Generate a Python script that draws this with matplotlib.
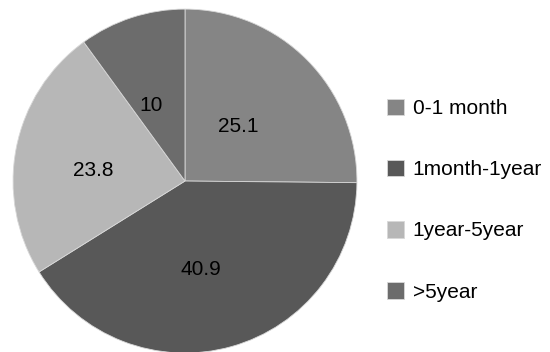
import matplotlib.pyplot as plt
import numpy as np

plt.rcParams['font.family'] = ['Liberation Sans', 'DejaVu Sans']

labels = ['0-1 month', '1month-1year', '1year-5year', '>5year']
values = [25.1, 40.9, 23.8, 10]
colors = ['#858585', '#585858', '#b7b7b7', '#6c6c6c']

fig = plt.figure(figsize=(5.5, 3.52), dpi=100)
ax = fig.add_axes([0.0236, -0.0028, 0.6255, 0.977])

wedges, texts = ax.pie(values, colors=colors, startangle=90, counterclock=False,
                       labels=[str(v) for v in values], labeldistance=0.5,
                       wedgeprops=dict(edgecolor='#d8d8d8', linewidth=0.6),
                       textprops=dict(fontsize=15, color='black'))
# nudge the value labels a little left and down
for t in texts:
    x, y = t.get_position()
    t.set_position((x - 0.045, y - 0.035))
    t.set_horizontalalignment('center')
    t.set_verticalalignment('center')
ax.set_xlim(-1, 1)
ax.set_ylim(-1, 1)
ax.set_aspect('equal')
ax.axis('off')

fig.legend(wedges, labels, loc='upper left', bbox_to_anchor=(0.703, 0.72),
           frameon=False, fontsize=15, labelspacing=2.0,
           handlelength=0.85, handleheight=0.85, handletextpad=0.4,
           borderaxespad=0, borderpad=0)

fig.savefig('out.png', dpi=100)
